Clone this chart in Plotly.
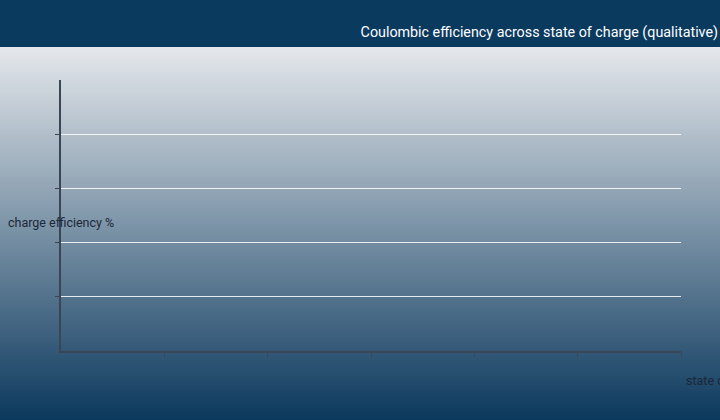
import plotly.graph_objects as go

# Qualitative chart: the reference shows empty axes only, no plotted values.
soc_pct = []            # state of charge (%)
efficiency_pct = []     # charge efficiency (%)
x_tickvals = [1, 2, 3, 4, 5, 6]
y_tickvals = [1, 2, 3, 4]
title_text = "Coulombic efficiency across state of charge (qualitative)"
x_title = "state of charge %"
y_title = "charge efficiency %"

W, H = 720, 420
L, R, T, B = 61, 39, 80, 69
pw, ph = W - L - R, H - T - B

def px_x(p):  # pixel -> paper x
    return (p - L) / pw

def px_y(p):  # pixel -> paper y
    return (H - B - p) / ph

# background: dark header band, then a linear vertical gradient
top_rgb = (229, 232, 236)
bot_rgb = (11, 56, 93)
band_top = 47

shapes = [dict(type="rect", xref="paper", yref="paper", layer="below",
               x0=px_x(-5), x1=px_x(W + 5), y0=px_y(band_top), y1=px_y(-5),
               fillcolor="#0b3a5f", line=dict(width=0))]
step = 2
for p in range(band_top, H, step):
    t = (p + step / 2 - band_top) / (H - band_top)
    c = tuple(round(a + (b - a) * t) for a, b in zip(top_rgb, bot_rgb))
    shapes.append(dict(type="rect", xref="paper", yref="paper", layer="below",
                       x0=px_x(-5), x1=px_x(W + 5), y0=px_y(p + step + 0.5), y1=px_y(p),
                       fillcolor=f"rgb{c}", line=dict(width=0)))

fig = go.Figure(go.Scatter(x=soc_pct, y=efficiency_pct, mode="lines", showlegend=False))

axis_col = "#3a4556"
fig.update_layout(
    width=W, height=H,
    margin=dict(l=L, r=R, t=T, b=B),
    paper_bgcolor="#0b3a5f", plot_bgcolor="rgba(0,0,0,0)",
    font=dict(family="Roboto", size=12, color="#1c2838"),
    title=dict(text=title_text, x=718 / W, xanchor="right",
               xref="container", y=1 - 32 / H, yanchor="middle",
               font=dict(family="Roboto", size=14.3, color="white")),
    shapes=shapes,
    xaxis=dict(range=[0, 6], tickvals=x_tickvals, showticklabels=False,
               showgrid=False, zeroline=False, showline=True, linecolor=axis_col,
               linewidth=2, ticks="outside", ticklen=4, tickwidth=1, tickcolor=axis_col),
    yaxis=dict(range=[0, 5], tickvals=y_tickvals, showticklabels=False,
               showgrid=True, gridcolor="rgba(255,255,255,0.85)", gridwidth=1,
               zeroline=False, showline=True, linecolor=axis_col, linewidth=1.5,
               ticks="outside", ticklen=4, tickwidth=1, tickcolor=axis_col),
    annotations=[
        dict(text=y_title, xref="paper", yref="paper", x=px_x(6), y=px_y(222),
             xanchor="left", yanchor="middle", showarrow=False,
             font=dict(size=12.5, color="#1c2838")),
        dict(text=x_title, xref="paper", yref="paper", x=px_x(684), y=px_y(380),
             xanchor="left", yanchor="middle", showarrow=False,
             font=dict(size=12.5, color="#1c2838")),
    ],
)

fig.write_html("out.html", config={"displayModeBar": False},
               post_script="document.body.style.margin='0';"
                           "document.body.style.background='#0b3a5f';")
